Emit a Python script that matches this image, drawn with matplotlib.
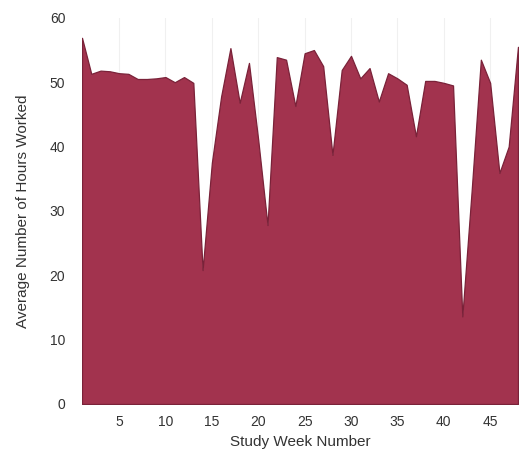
import numpy as np
import matplotlib
matplotlib.use("Agg")
import matplotlib.pyplot as plt

# Average hours worked per study week
weeks = list(range(1, 49))
hours = [56.9, 51.3, 51.8, 51.7, 51.4, 51.3, 50.5, 50.5, 50.6, 50.8,
         50.0, 50.8, 49.9, 20.8, 37.5, 47.8, 55.3, 46.8, 53.0, 41.0,
         27.8, 53.9, 53.5, 46.3, 54.5, 55.0, 52.5, 38.7, 51.9, 54.1,
         50.6, 52.2, 47.0, 51.4, 50.6, 49.6, 41.6, 50.2, 50.2, 49.9,
         49.5, 13.6, 33.0, 53.5, 49.9, 35.9, 40.0, 55.5]
xticks = [5, 10, 15, 20, 25, 30, 35, 40, 45]
yticks = [0, 10, 20, 30, 40, 50, 60]

plt.rcParams['font.family'] = ['Liberation Sans Narrow', 'Liberation Sans', 'DejaVu Sans']

fig = plt.figure(figsize=(5.19, 4.58), dpi=100)
ax = fig.add_axes([0.158, 0.118, 0.84, 0.843])

ax.fill_between(weeks, hours, 0, facecolor='#a2334e', edgecolor='#7a2239',
                linewidth=0.9, zorder=2)

ax.set_xlim(1, 48)
ax.set_ylim(0, 60)
ax.set_xticks(xticks)
ax.set_yticks(yticks)
ax.grid(axis='x', color='#f0f0f0', linewidth=0.8, zorder=0)
for s in ax.spines.values():
    s.set_visible(False)
ax.tick_params(length=0, labelsize=10, labelcolor='#333333', pad=12)
ax.tick_params(axis='x', pad=8)

ax.set_xlabel('Study Week Number', fontsize=11, color='#333333', labelpad=4)
ax.set_ylabel('Average Number of Hours Worked', fontsize=11, color='#333333', labelpad=14)

fig.savefig('out.png', dpi=100)
